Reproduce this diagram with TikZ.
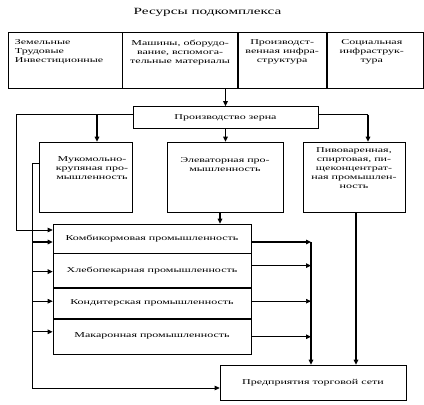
\documentclass[tikz,border=0pt]{standalone}
\usepackage{fontspec}
\setmainfont{Liberation Serif}[FakeStretch=1.6]
\usetikzlibrary{positioning, arrows.meta}
\newcommand{\diagfont}{\fontsize{7.5}{9}\selectfont}

\begin{document}
\begin{tikzpicture}[
        x=1pt, y=-1pt,
        box/.style={rectangle, draw, line width=0.6pt, inner sep=0pt, font=\diagfont},
        boxtext/.style={align=center, inner sep=0pt, font=\diagfont},
        industry/.style={box, minimum width=198pt},
        arrow/.style={-{Triangle[length=5pt, width=4.5pt]}, line width=1.2pt},
        thinarrow/.style={-{Triangle[length=5pt, width=4.5pt]}, line width=0.6pt},
        thinline/.style={line width=0.6pt}
    ]
    \useasboundingbox (0,0) rectangle (424,405);
    \node (title) [inner sep=0pt, font=\fontsize{9.5}{11}\selectfont] at (207.5,12.5) {Ресурсы подкомплекса};
    % resources
    \node (land) [box, minimum width=114pt, minimum height=56pt] at (65,60) {};
    \node (mach) [box, minimum width=115pt, minimum height=56pt, right=0pt of land] {};
    \node (infra) [box, minimum width=88pt, minimum height=56pt, right=0pt of mach] {};
    \node (social) [box, minimum width=96pt, minimum height=56pt, right=0pt of infra] {};
    \node (landtext) [boxtext, align=left, anchor=north west] at ([xshift=7pt, yshift=-8pt]land.north west) {Земельные\\Трудовые\\Инвестиционные};
    \node (machtext) [boxtext, anchor=north] at ([yshift=-8pt]mach.north) {Машины, оборудо-\\вание, вспомога-\\тельные материалы};
    \node (infratext) [boxtext, anchor=north] at ([yshift=-8pt]infra.north) {Производст-\\венная инфра-\\структура};
    \node (socialtext) [boxtext, anchor=north] at ([xshift=-3pt, yshift=-8pt]social.north) {Социальная\\инфраструк-\\тура};
    % grain production
    \node (grain) [box, minimum width=185pt, minimum height=22pt] at (225.5,117.5) {Производство зерна};
    \node (muk) [box, minimum width=93pt, minimum height=70pt] at (85.5,177) {};
    \node (elev) [box, minimum width=116pt, minimum height=70pt] at (225,177) {};
    \node (pivo) [box, minimum width=102pt, minimum height=70pt] at (354,177) {};
    \node (muktext) [boxtext, anchor=north] at ([xshift=6.5pt, yshift=-15pt]muk.north) {Мукомольно-\\крупяная про-\\мышленность};
    \node (elevtext) [boxtext, anchor=north] at ([yshift=-16pt]elev.north) {Элеваторная про-\\мышленность};
    \node (pivotext) [boxtext, anchor=north] at ([yshift=-6pt]pivo.north) {Пивоваренная,\\спиртовая, пи-\\щеконцентрат-\\ная промышлен-\\ность};
    % processing industries
    \node (feed) [industry, minimum height=29pt] at (152,238.5) {Комбикормовая промышленность};
    \node (bakery) [industry, minimum height=34pt, below=0pt of feed] {Хлебопекарная промышленность};
    \node (confect) [industry, minimum height=30pt, below=0pt of bakery] {Кондитерская промышленность};
    \node (pasta) [industry, minimum height=35pt, below=0pt of confect] {Макаронная промышленность};
    \node (trade) [box, minimum width=186pt, minimum height=35pt] at (313,382.5) {Предприятия торговой сети};

    \coordinate (splitL) at ([yshift=3pt]grain.west);
    \coordinate (splitR) at ([yshift=3pt]grain.east);
    \coordinate (mukin) at ([xshift=11.5pt]muk.north);
    \coordinate (pivoin) at ([xshift=14pt]pivo.north);
    \coordinate (outer) at (16,230);
    \coordinate (inner) at (32,388);
    \coordinate (collect) at ([xshift=-2pt]trade.north);

    \draw [arrow] (grain.north |- mach.south) -- (grain.north);
    \draw [thinline] (splitL) -- (splitL -| mukin);
    \draw [thinline] (splitR) -- (splitR -| pivoin);
    \draw [arrow] (splitL -| mukin) -- (mukin);
    \draw [arrow] (splitR -| pivoin) -- (pivoin);
    \draw [arrow] (grain.south) -- (grain.south |- elev.north);
    \draw [arrow] ([xshift=-5pt]elev.south) -- ([xshift=-5pt]elev.south |- feed.north);
    \draw [thinarrow] (splitL) -| (outer) -- (outer -| feed.west);
    \draw [thinarrow] ([yshift=14pt]muk.west) -| (inner) -- (inner -| trade.west);
    \draw [arrow] ([xshift=2pt]pivo.south) -- ([xshift=2pt]pivo.south |- trade.north);

    \foreach \row/\dyin/\dyout/\instyle/\outstyle in {feed/-3.5/-3.5/arrow/arrow, bakery/-1/5/arrow/arrow, confect/2/2/thinarrow/thinarrow, pasta/4.5/-0.5/arrow/arrow}{
        \coordinate (\row-in) at ([yshift=\dyin pt]\row.west);
        \coordinate (\row-out) at ([yshift=\dyout pt]\row.east);
        \draw [\instyle] (inner |- \row-in) -- (\row-in);
        \draw [\outstyle] (\row-out) -- (\row-out -| collect);
    }
    \draw [arrow] (feed-out -| collect) -- (collect);
\end{tikzpicture}
\end{document}
